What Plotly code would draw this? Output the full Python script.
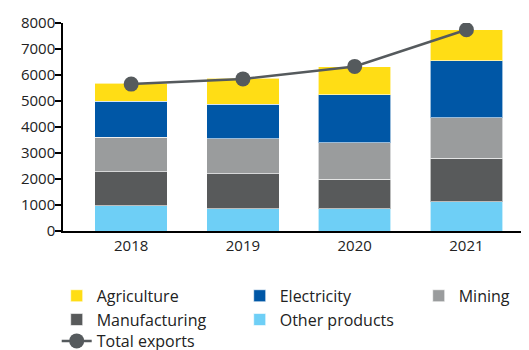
import plotly.graph_objects as go

years = ['2018', '2019', '2020', '2021']

other_products = [970, 850, 860, 1120]
manufacturing = [1300, 1360, 1140, 1670]
mining = [1330, 1330, 1390, 1560]
electricity = [1400, 1330, 1860, 2190]
agriculture = [680, 1000, 1070, 1210]
total_exports = [5650, 5850, 6330, 7740]

FONT = "Open Sans"

fig = go.Figure()

# stacked bars, bottom to top; Mining gets its own legend box (3rd column)
stack = [
    ('Other products', other_products, '#6ECFF6', 4, 'legend'),
    ('Manufacturing', manufacturing, '#585A5B', 3, 'legend'),
    ('Mining', mining, '#9A9C9D', 1, 'legend3'),
    ('Electricity', electricity, '#0057A6', 2, 'legend'),
    ('Agriculture', agriculture, '#FFDD15', 1, 'legend'),
]
for name, vals, col, rank, leg in stack:
    fig.add_trace(go.Bar(
        x=years, y=vals, name=name, legendrank=rank, legend=leg,
        marker=dict(color=col, line=dict(color='rgba(255,255,255,0.6)', width=1)),
        width=0.65,
    ))

# line sits in its own legend so it drops to a third row
fig.add_trace(go.Scatter(
    x=years, y=total_exports, name='Total exports', legend='legend2',
    mode='lines+markers',
    line=dict(color='#555A5D', width=2.5),
    marker=dict(color='#555A5D', size=15),
))

leg_font = dict(family=FONT, size=16, color='#222')
leg_x = -0.0135
clear = 'rgba(0,0,0,0)'

fig.update_layout(
    barmode='stack',
    width=529, height=350,
    margin=dict(l=55, r=8, t=15, b=127, autoexpand=False),
    plot_bgcolor='#fff', paper_bgcolor='#fff',
    font=dict(family=FONT, size=15, color='#222'),
    legend=dict(
        orientation='h',
        x=leg_x, y=-0.23,
        xanchor='left', yanchor='top',
        entrywidth=138,
        traceorder='normal',
        font=leg_font,
        tracegroupgap=0,
        bgcolor=clear,
    ),
    legend2=dict(
        orientation='h',
        x=leg_x, y=-0.447,
        xanchor='left', yanchor='top',
        font=leg_font,
        bgcolor=clear,
    ),
    legend3=dict(
        orientation='h',
        x=leg_x + 362 / 466, y=-0.23,
        xanchor='left', yanchor='top',
        font=leg_font,
        bgcolor=clear,
    ),
    showlegend=True,
)

fig.update_xaxes(
    range=[-0.61, 3.56],
    showline=True, linecolor='#000', linewidth=1.5,
    ticks='', showgrid=False,
    tickfont=dict(family=FONT, size=15, color='#222'),
)
fig.update_yaxes(
    range=[0, 8000], dtick=1000,
    showline=True, linecolor='#000', linewidth=1.5,
    ticks='outside', ticklen=6, tickcolor='#000', tickwidth=1.5,
    ticklabelstandoff=-3,
    showgrid=False, zeroline=False,
    tickfont=dict(family=FONT, size=15, color='#222'),
)

fig.write_html("out.html")
